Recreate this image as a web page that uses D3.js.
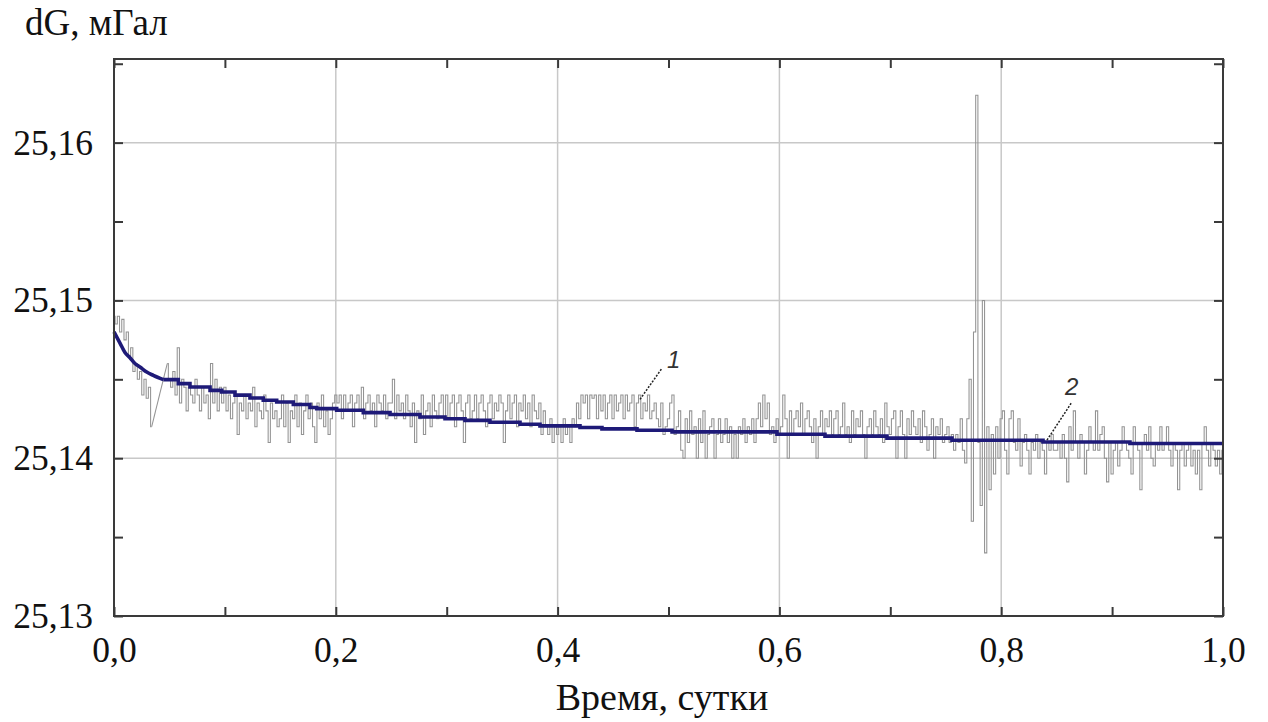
<!DOCTYPE html>
<html>
<head>
<meta charset="utf-8">
<script src="https://cdn.jsdelivr.net/npm/d3@7"></script>
<style>
	body { margin: 0; background: #fff; }
	svg { display: block; }
</style>
</head>
<body>
<script>
var width = 1268;
var height = 722;
var left = 114, top0 = 59, right = 1223, bottom = 616;

// measured signal, one sample every 0.002 days, null = no data
var sampleStep = 0.002;
var gravity = [
	25.149, 25.1485, 25.149, 25.148, 25.1488, 25.1475, 25.148, 25.1465, 25.147, 25.1455, 25.146, 25.145, 25.1455, 25.144, 25.145, 25.1438, 25.1445, 25.142, null, null, null, null, null, null, 25.146,
	25.145, 25.1445, 25.1455, 25.144, 25.147, 25.1435, 25.145, 25.1445, 25.143, 25.1445, 25.144, 25.1435, 25.145, 25.144, 25.143, 25.1445, 25.1435, 25.144, 25.1425, 25.146, 25.1435, 25.145, 25.143, 25.1445, 25.1435,
	25.1445, 25.143, 25.144, 25.1425, 25.1435, 25.144, 25.1415, 25.1435, 25.143, 25.144, 25.1425, 25.1435, 25.143, 25.1445, 25.142, 25.1435, 25.143, 25.1425, 25.144, 25.143, 25.141, 25.1435, 25.1425, 25.143, 25.142,
	25.1425, 25.144, 25.142, 25.1435, 25.141, 25.143, 25.1425, 25.144, 25.142, 25.1435, 25.1415, 25.143, 25.144, 25.1425, 25.1435, 25.142, 25.141, 25.1435, 25.1425, 25.144, 25.142, 25.143, 25.1415, 25.1425, 25.1435,
	25.144, 25.1435, 25.144, 25.1425, 25.144, 25.143, 25.1435, 25.144, 25.142, 25.1435, 25.144, 25.143, 25.1445, 25.1425, 25.1435, 25.144, 25.143, 25.1435, 25.142, 25.144, 25.1435, 25.143, 25.144, 25.1425, 25.1435,
	25.1435, 25.145, 25.1425, 25.144, 25.143, 25.1435, 25.1425, 25.144, 25.143, 25.142, 25.1435, 25.141, 25.143, 25.1425, 25.144, 25.1415, 25.143, 25.1435, 25.142, 25.144, 25.143, 25.1425, 25.1435, 25.144, 25.1425,
	25.144, 25.1425, 25.1435, 25.144, 25.142, 25.1435, 25.144, 25.143, 25.141, 25.1435, 25.144, 25.1425, 25.143, 25.144, 25.1425, 25.1435, 25.144, 25.143, 25.142, 25.1435, 25.144, 25.1425, 25.1435, 25.143, 25.144,
	25.1435, 25.141, 25.143, 25.144, 25.1425, 25.1435, 25.144, 25.142, 25.1435, 25.143, 25.144, 25.1425, 25.1435, 25.142, 25.144, 25.143, 25.1425, 25.1435, 25.1415, 25.143, 25.142, 25.1415, 25.1425, 25.141, 25.142,
	25.1415, 25.142, 25.141, 25.1425, 25.1415, 25.142, 25.141, 25.1425, 25.142, 25.1435, 25.1425, 25.144, 25.1435, 25.144, 25.1425, 25.144, 25.1438, 25.144, 25.1425, 25.144, 25.143, 25.144, 25.1425, 25.1435, 25.144,
	25.1425, 25.144, 25.143, 25.1435, 25.144, 25.1425, 25.144, 25.143, 25.1435, 25.144, 25.142, 25.1435, 25.144, 25.1425, 25.1435, 25.143, 25.144, 25.1425, 25.143, 25.1435, 25.1425, 25.142, 25.1435, 25.1415, 25.142,
	25.1425, 25.1435, 25.144, 25.1415, 25.142, 25.143, 25.1405, 25.14, 25.1425, 25.141, 25.143, 25.1415, 25.142, 25.14, 25.1425, 25.141, 25.143, 25.14, 25.1415, 25.142, 25.1425, 25.14, 25.1415, 25.1425, 25.141,
	25.1415, 25.1425, 25.141, 25.142, 25.14, 25.1415, 25.14, 25.142, 25.1415, 25.1425, 25.141, 25.142, 25.1415, 25.1425, 25.141, 25.1425, 25.1435, 25.142, 25.144, 25.1425, 25.1435, 25.1415, 25.142, 25.141, 25.1425,
	25.1415, 25.142, 25.144, 25.1425, 25.14, 25.143, 25.1415, 25.1425, 25.143, 25.142, 25.1435, 25.1415, 25.1425, 25.143, 25.142, 25.141, 25.1425, 25.14, 25.142, 25.143, 25.1415, 25.1425, 25.142, 25.143, 25.1415,
	25.1425, 25.143, 25.1415, 25.142, 25.1435, 25.1415, 25.142, 25.141, 25.143, 25.1415, 25.1425, 25.142, 25.143, 25.1415, 25.14, 25.142, 25.1425, 25.1415, 25.143, 25.142, 25.1415, 25.1425, 25.141, 25.1435, 25.142,
	25.1415, 25.1425, 25.143, 25.14, 25.142, 25.143, 25.1415, 25.14, 25.1425, 25.1415, 25.143, 25.142, 25.1415, 25.1425, 25.141, 25.143, 25.142, 25.1405, 25.1415, 25.1425, 25.14, 25.142, 25.1415, 25.1425, 25.141,
	25.1415, 25.142, 25.141, 25.1415, 25.1405, 25.1415, 25.141, 25.1425, 25.1405, 25.1397, 25.1425, 25.145, 25.136, 25.148, 25.163, 25.141, 25.137, 25.15, 25.134, 25.142, 25.138, 25.1415, 25.139, 25.142, 25.14,
	25.1425, 25.143, 25.1405, 25.139, 25.1425, 25.143, 25.141, 25.1405, 25.1425, 25.1395, 25.141, 25.1415, 25.1405, 25.139, 25.141, 25.1405, 25.1415, 25.14, 25.141, 25.1405, 25.139, 25.141, 25.1405, 25.1415, 25.1405,
	25.1405, 25.141, 25.14, 25.1415, 25.14, 25.1385, 25.142, 25.1405, 25.143, 25.141, 25.14, 25.1415, 25.141, 25.139, 25.1405, 25.142, 25.141, 25.1405, 25.143, 25.1405, 25.1415, 25.142, 25.14, 25.1385, 25.141,
	25.139, 25.1405, 25.141, 25.1395, 25.1405, 25.142, 25.141, 25.1405, 25.14, 25.139, 25.142, 25.141, 25.1405, 25.138, 25.141, 25.1415, 25.1405, 25.142, 25.14, 25.1395, 25.141, 25.1405, 25.142, 25.1405, 25.141,
	25.142, 25.1405, 25.1395, 25.141, 25.1405, 25.138, 25.1405, 25.141, 25.1395, 25.1405, 25.141, 25.1395, 25.1405, 25.139, 25.1405, 25.138, 25.141, 25.142, 25.1405, 25.1395, 25.141, 25.1405, 25.1395, 25.1405, 25.139,
	25.1405
];

// drift curve: smooth start, then stepped
var driftTime = [0, 0.0054, 0.0099, 0.0144, 0.0189, 0.0234, 0.0295, 0.0354, 0.0445, 0.058, 0.0685, 0.0866, 0.0971, 0.1091, 0.1226, 0.1346, 0.1467, 0.1617, 0.1767, 0.1828, 0.2008, 0.2248, 0.2489, 0.2759, 0.2985, 0.3165, 0.339, 0.3661, 0.3841, 0.4202, 0.44, 0.4716, 0.5032, 0.5978, 0.6411, 0.697, 0.7556, 0.8377, 0.9161, 1.0];
var driftValue = [25.148, 25.1473, 25.1467, 25.14637, 25.146, 25.14578, 25.14546, 25.14525, 25.14498, 25.14473, 25.14451, 25.1443, 25.1442, 25.144, 25.14382, 25.14367, 25.14356, 25.1434, 25.14321, 25.14314, 25.14304, 25.14289, 25.14277, 25.14261, 25.1425, 25.1424, 25.14228, 25.14215, 25.14205, 25.14195, 25.14186, 25.14177, 25.14167, 25.14152, 25.1414, 25.14127, 25.14114, 25.14103, 25.14093, 25.14093];
var smoothCount = 9;

var xTicks = [0, 0.1, 0.2, 0.3, 0.4, 0.5, 0.6, 0.7, 0.8, 0.9, 1.0];
var xLabelTicks = [0, 0.2, 0.4, 0.6, 0.8, 1.0];
var yTicks = [25.13, 25.135, 25.14, 25.145, 25.15, 25.155, 25.16, 25.165];
var yLabelTicks = [25.13, 25.14, 25.15, 25.16];

// curve labels: leader from (t0,v0) to (t1,v1), text at (tt,vt)
var curveLabels = [
	{name: "1", t0: 0.4743, v0: 25.14373, t1: 0.4941, v1: 25.1457, tt: 0.4986, vt: 25.14572},
	{name: "2", t0: 0.8413, v0: 25.14115, t1: 0.8638, v1: 25.14356, tt: 0.8575, vt: 25.14401}
];

var svg = d3.select("body").append("svg")
	.attr("width", width)
	.attr("height", height)
	.style("background", "#fff");

var x = d3.scaleLinear().domain([0, 1]).range([left, right]);
var y = d3.scaleLinear().domain([25.13, 25.1653]).range([bottom, top0]);

var comma = function(f){ return function(d){ return f(d).replace(".", ","); }; };
var fx = comma(d3.format(".1f"));
var fy = comma(d3.format(".2f"));
var near = function(list, d){ return list.some(function(v){ return Math.abs(v - d) < 1e-9; }); };

// grid
svg.append("g").selectAll("line")
	.data(xLabelTicks.filter(function(d){ return d > 0 && d < 1; }))
	.enter().append("line")
	.attr("x1", function(d){ return x(d); })
	.attr("x2", function(d){ return x(d); })
	.attr("y1", top0)
	.attr("y2", bottom)
	.attr("stroke", "#c8c8c8")
	.attr("stroke-width", 1.5);

svg.append("g").selectAll("line")
	.data(yLabelTicks.filter(function(d){ return d > 25.13; }))
	.enter().append("line")
	.attr("x1", left)
	.attr("x2", right)
	.attr("y1", function(d){ return y(d); })
	.attr("y2", function(d){ return y(d); })
	.attr("stroke", "#c8c8c8")
	.attr("stroke-width", 1.5);

svg.append("clipPath").attr("id", "plot")
	.append("rect")
	.attr("x", left).attr("y", top0)
	.attr("width", right - left).attr("height", bottom - top0);

// split the signal into runs of samples; gaps are bridged by a straight segment
var runs = [], bridges = [], run = [];
gravity.forEach(function(v, i){
	if (v === null) {
		if (run.length) runs.push(run);
		run = [];
		return;
	}
	var d = {t: i * sampleStep, v: v};
	if (!run.length && runs.length) {
		var prev = runs[runs.length - 1];
		bridges.push([prev[prev.length - 1], d]);
	}
	run.push(d);
});
if (run.length) runs.push(run);

var line = d3.line()
	.x(function(d){ return x(d.t); })
	.y(function(d){ return y(d.v); });

var signal = svg.append("g").attr("clip-path", "url(#plot)")
	.attr("fill", "none")
	.attr("stroke", "#939393")
	.attr("stroke-width", 1.05);

signal.selectAll("path.run")
	.data(runs)
	.enter().append("path")
	.attr("class", "run")
	.attr("d", line.curve(d3.curveStep));

signal.selectAll("path.gap")
	.data(bridges)
	.enter().append("path")
	.attr("class", "gap")
	.attr("d", d3.line().x(function(d){ return x(d.t); }).y(function(d){ return y(d.v); }));

var drift = driftTime.map(function(t, i){ return {t: t, v: driftValue[i]}; });

svg.append("path")
	.datum(drift.slice(0, smoothCount))
	.attr("d", line.curve(d3.curveMonotoneX))
	.attr("fill", "none")
	.attr("stroke", "#1e1a78")
	.attr("stroke-width", 3.6);

svg.append("path")
	.datum(drift.slice(smoothCount - 1))
	.attr("d", line.curve(d3.curveStepAfter))
	.attr("fill", "none")
	.attr("stroke", "#1e1a78")
	.attr("stroke-width", 3.6);

// axes, ticks pointing inward on all four sides
var font = "'Liberation Serif', 'Times New Roman', serif";

svg.append("g")
	.attr("transform", "translate(0," + bottom + ")")
	.call(d3.axisBottom(x).tickValues(xTicks).tickSize(-9).tickSizeOuter(0).tickPadding(21)
		.tickFormat(function(d){ return near(xLabelTicks, d) ? fx(d) : ""; }))
	.call(function(g){ g.select(".domain").remove(); });

svg.append("g")
	.attr("transform", "translate(0," + top0 + ")")
	.call(d3.axisTop(x).tickValues(xTicks).tickSize(-9).tickSizeOuter(0).tickFormat(""))
	.call(function(g){ g.select(".domain").remove(); });

svg.append("g")
	.attr("transform", "translate(" + left + ",0)")
	.call(d3.axisLeft(y).tickValues(yTicks).tickSize(-9).tickSizeOuter(0).tickPadding(21)
		.tickFormat(function(d){ return near(yLabelTicks, d) ? fy(d) : ""; }))
	.call(function(g){ g.select(".domain").remove(); });

svg.append("g")
	.attr("transform", "translate(" + right + ",0)")
	.call(d3.axisRight(y).tickValues(yTicks).tickSize(-9).tickSizeOuter(0).tickFormat(""))
	.call(function(g){ g.select(".domain").remove(); });

svg.selectAll(".tick line").attr("stroke", "#3a3a3a").attr("stroke-width", 2);
svg.selectAll(".tick text")
	.attr("fill", "#111")
	.style("font-family", font)
	.style("font-size", "35.5px");

svg.append("rect")
	.attr("x", left).attr("y", top0)
	.attr("width", right - left).attr("height", bottom - top0)
	.attr("fill", "none")
	.attr("stroke", "#3a3a3a")
	.attr("stroke-width", 2);

// titles
svg.append("text")
	.attr("x", 25).attr("y", 35)
	.attr("fill", "#111")
	.style("font-family", font)
	.style("font-size", "37px")
	.text("dG, мГал");

svg.append("text")
	.attr("x", 662).attr("y", 710)
	.attr("text-anchor", "middle")
	.attr("fill", "#111")
	.style("font-family", font)
	.style("font-size", "38px")
	.text("Время, сутки");

// curve labels with dashed leaders
svg.append("g").selectAll("line")
	.data(curveLabels)
	.enter().append("line")
	.attr("x1", function(d){ return x(d.t0); })
	.attr("y1", function(d){ return y(d.v0); })
	.attr("x2", function(d){ return x(d.t1); })
	.attr("y2", function(d){ return y(d.v1); })
	.attr("stroke", "#222")
	.attr("stroke-width", 1.5)
	.attr("stroke-dasharray", "2,1.5");

svg.append("g").selectAll("text")
	.data(curveLabels)
	.enter().append("text")
	.attr("x", function(d){ return x(d.tt); })
	.attr("y", function(d){ return y(d.vt); })
	.attr("fill", "#333")
	.style("font-family", "'Liberation Sans', Arial, sans-serif")
	.style("font-style", "italic")
	.style("font-size", "24px")
	.text(function(d){ return d.name; });
</script>
</body>
</html>
